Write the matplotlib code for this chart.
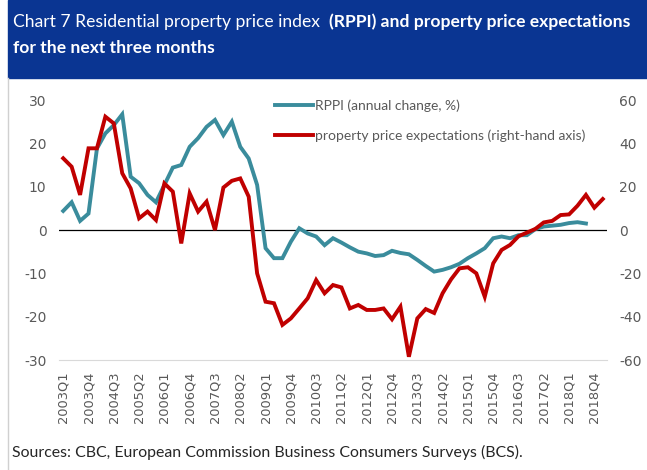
import numpy as np
import matplotlib
matplotlib.use("Agg")
import matplotlib.pyplot as plt
from matplotlib.patches import Rectangle
from matplotlib.lines import Line2D

# -------------------------
# data
# -------------------------
quarters = [f"{y}Q{q}" for y in range(2003, 2019) for q in range(1, 5)] + ["2019Q1"]

rppi = [4.4, 6.4, 2.1, 3.8, 18.8, 22.3, 24.2, 26.7, 12.3, 10.8, 8.1, 6.4,
        10.4, 14.4, 15.0, 19.2, 21.2, 23.8, 25.4, 21.9, 25.0, 19.2, 16.5, 10.4,
        -4.2, -6.5, -6.5, -2.7, 0.4, -0.8, -1.5, -3.5, -1.9, -2.9, -4.0, -5.0,
        -5.4, -6.0, -5.8, -4.8, -5.3, -5.6, -6.9, -8.3, -9.6, -9.2, -8.6, -7.8,
        -6.5, -5.4, -4.2, -1.9, -1.5, -1.9, -1.2, -1.2, 0.2, 0.8, 1.0, 1.2,
        1.6, 1.8, 1.5]

expect = [33.1, 29.2, 16.2, 37.7, 37.7, 52.3, 49.2, 26.2, 19.2, 5.4, 8.5, 4.6,
          21.5, 17.7, -6.2, 16.9, 8.5, 13.1, 0.0, 19.6, 22.7, 23.8, 15.4, -20.0,
          -33.1, -33.8, -43.8, -40.8, -36.2, -31.5, -23.1, -29.2, -25.4, -26.5, -36.2, -34.6,
          -36.9, -36.9, -36.2, -41.2, -35.4, -58.5, -40.8, -36.5, -38.3, -29.2, -22.8, -17.7,
          -17.2, -20.0, -30.8, -15.4, -9.2, -6.9, -2.9, -1.2, 0.5, 3.5, 4.2, 6.9,
          7.2, 11.2, 16.2, 10.3, 14.3]

left_ticks = [-30, -20, -10, 0, 10, 20, 30]
right_ticks = [-60, -40, -20, 0, 20, 40, 60]

title_reg = "Chart 7 Residential property price index"
title_bold = "(RPPI) and property price expectations"
title_bold2 = "for the next three months"
source = "Sources: CBC, European Commission Business Consumers Surveys (BCS)."

# -------------------------
# style
# -------------------------
W, H = 647, 470
TEAL = "#3a8c9c"
RED = "#c00000"
BLUE = "#0a3592"
GREY = "#595959"
plt.rcParams["font.family"] = ["Lato", "DejaVu Sans"]
plt.rcParams["axes.unicode_minus"] = False

fig = plt.figure(figsize=(W / 100, H / 100), dpi=100)

# title bar + left frame line
fig.patches.append(Rectangle((8 / W, 1 - 78 / H), 1 - 8 / W, 78 / H,
                             transform=fig.transFigure, color=BLUE, zorder=0))
fig.lines.append(Line2D([7.5 / W, 7.5 / W], [0, 1 - 78 / H], transform=fig.transFigure,
                        color="#d0d0d0", lw=1))

ax = fig.add_axes([59 / W, 1 - 360 / H, 548 / W, 260 / H])
ax2 = ax.twinx()

x = np.arange(len(quarters))
ax.plot(x[:len(rppi)], rppi, color=TEAL, lw=2.8, solid_joinstyle="miter",
        label="RPPI (annual change, %)")
ax2.plot(x[:len(expect)], expect, color=RED, lw=2.8, solid_joinstyle="miter",
         label="property price expectations (right-hand axis)")
ax.axhline(0, color="black", lw=0.9, zorder=1)

ax.set_xlim(-0.5, len(quarters) - 0.5)
ax.set_ylim(-30, 30)
ax2.set_ylim(-60, 60)
ax.set_yticks(left_ticks)
ax2.set_yticks(right_ticks)
ax.set_xticks(x[::3])
ax.set_xticklabels(quarters[::3], rotation=90, family="DejaVu Sans", fontsize=9.4, color=GREY)

for a in (ax, ax2):
    for s in a.spines.values():
        s.set_visible(False)
    a.tick_params(length=0)
ax.spines["bottom"].set_visible(True)
ax.spines["bottom"].set_color("#d9d9d9")
ax.tick_params(axis="x", pad=8)
ax.tick_params(axis="y", pad=9, labelsize=10, labelcolor=GREY)
ax2.tick_params(axis="y", pad=9, labelsize=10, labelcolor=GREY)
for lab in ax.get_yticklabels() + ax2.get_yticklabels():
    lab.set_family("DejaVu Sans")

handles = ax.get_lines()[:1] + ax2.get_lines()[:1]
fig.legend(handles, [h.get_label() for h in handles], loc="upper left",
           bbox_to_anchor=(275 / W, 1 - 99 / H), frameon=False, fontsize=10,
           handlelength=2.7, handletextpad=0.2, labelspacing=1.3,
           borderpad=0, borderaxespad=0, labelcolor=GREY)

# title: regular part then bold part
FS = 12.6
t1 = fig.text(13 / W, 1 - 22 / H, title_reg, color="white", fontsize=FS, va="center")
fig.canvas.draw()
bb = t1.get_window_extent()
fig.text((bb.x1 + 9) / W, 1 - 22 / H, title_bold, color="white", fontsize=FS,
         fontweight="bold", va="center")
fig.text(13 / W, 1 - 48 / H, title_bold2, color="white", fontsize=FS,
         fontweight="bold", va="center")

fig.text(12 / W, 1 - 452 / H, source, color="#262626", fontsize=11.4, va="center")

fig.savefig("out.png", dpi=100)
